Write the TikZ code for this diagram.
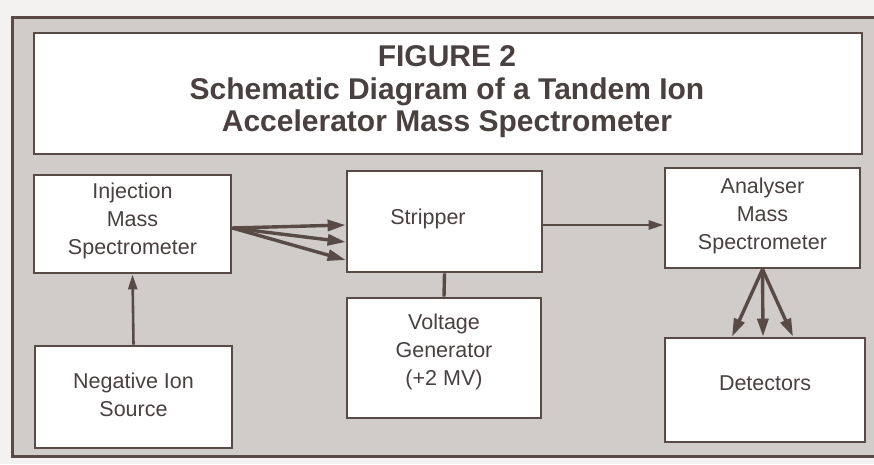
\documentclass[tikz,border=0pt]{standalone}
\usepackage{fontspec}
\setmainfont{Liberation Sans}
\usetikzlibrary{arrows.meta}
\definecolor{paper}{RGB}{244,242,240}
\definecolor{stip}{RGB}{208,204,202}
\definecolor{ink}{RGB}{90,74,70}
\definecolor{txt}{RGB}{74,64,64}
\begin{document}
\begin{tikzpicture}[x=1pt,y=-1pt,
  box/.style={draw=ink, line width=2.8pt, fill=white, rectangle, inner sep=0pt},
  lbl/.style={text=txt, font=\fontsize{21.5}{28}\selectfont, align=center},
  arr/.style={draw=ink, line width=3.4pt, -{Triangle[length=18pt,width=11pt]}},
  arrthin/.style={draw=ink, line width=2.6pt, -{Triangle[length=15pt,width=9pt]}},
  conn/.style={draw=ink, line width=3.4pt}]
\useasboundingbox (0,0) rectangle (874,464);
\clip (0,0) rectangle (874,464);
\fill[paper] (0,0) rectangle (874,464);
\draw[ink, line width=3pt, fill=stip] (12,17) rectangle (884,456);

\node[box, minimum width=828pt, minimum height=121pt] (title) at (448,93.5) {};
\node[text=txt, font=\bfseries\fontsize{30}{32.5}\selectfont, align=center] (titletext) at (447,92)
  {FIGURE 2\\Schematic Diagram of a Tandem Ion\\Accelerator Mass Spectrometer};

\node[box, minimum width=197pt, minimum height=98pt] (inj) at (132.5,224) {};
\node[lbl] (injt) at (132.5,221) {Injection\\Mass\\Spectrometer};

\node[box, minimum width=197pt, minimum height=102pt] (neg) at (133.5,397) {};
\node[lbl] (negt) at (133.5,395) {Negative Ion\\Source};

\node[box, minimum width=195pt, minimum height=101pt] (str) at (444.5,221.5) {};
\node[lbl] (strt) at (428,219) {Stripper};

\node[box, minimum width=194pt, minimum height=120pt] (volt) at (444,358) {};
\node[lbl] (voltt) at (444,352) {Voltage\\Generator\\(+2 MV)};

\node[box, minimum width=195pt, minimum height=100pt] (ana) at (762.5,218) {};
\node[lbl] (anat) at (762.5,216) {Analyser\\Mass\\Spectrometer};

\node[box, minimum width=200pt, minimum height=104pt] (det) at (765,390) {};
\node[lbl] (dett) at (765,383) {Detectors};

\draw[arr] ([yshift=-4pt]inj.east) -- ([yshift=-3.5pt]str.west);
\draw[arr] ([yshift=-4pt]inj.east) -- ([yshift=-20.5pt]str.west);
\draw[arr] ([yshift=-4pt]inj.east) -- ([yshift=-38.5pt]str.west);
\draw[arrthin] ([yshift=-3.5pt]str.east) -- ([yshift=-7pt]ana.west);
\draw[conn] (str.south) -- (volt.north);
\draw[arrthin] (neg.north) -- (inj.south);
\draw[arr] (ana.south) -- ([xshift=-33pt]det.north);
\draw[arr] (ana.south) -- ([xshift=-2pt]det.north);
\draw[arr] (ana.south) -- ([xshift=28pt]det.north);
\end{tikzpicture}
\end{document}
